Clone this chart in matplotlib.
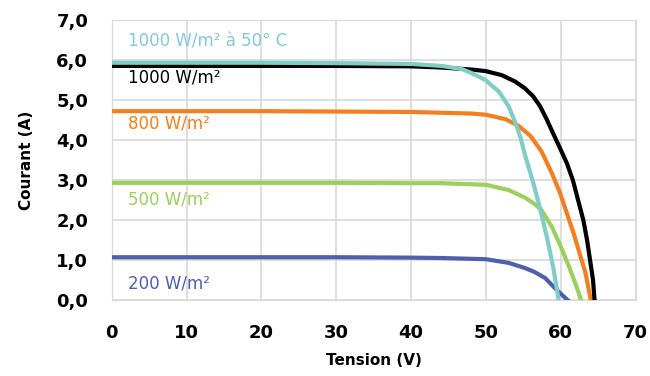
import numpy as np
import matplotlib
matplotlib.use('Agg')
import matplotlib.pyplot as plt
import matplotlib.ticker as ticker

plt.rcParams['font.family'] = ['DejaVu Sans']

# courbes I-V (tension V, courant A)
v_1000 = [0, 10, 20, 30, 40, 44.1, 48.1, 50, 52.1, 53.9, 55.2, 56.3, 57.2, 58.1, 59.0, 59.9,
          60.8, 61.6, 62.3, 63.0, 63.5, 63.9, 64.3, 64.5]
i_1000 = [5.85, 5.85, 5.85, 5.85, 5.84, 5.81, 5.76, 5.72, 5.62, 5.46, 5.29, 5.09, 4.85, 4.52,
          4.15, 3.79, 3.42, 3.0, 2.5, 2.0, 1.5, 1.0, 0.5, 0.0]

v_1000_50 = [0, 10, 20, 30, 40, 44.1, 46.8, 48.1, 49.9, 51.7, 53.0, 53.9, 54.6, 55.1, 56.2,
             57.0, 58.1, 59.0, 59.7]
i_1000_50 = [5.93, 5.93, 5.93, 5.92, 5.9, 5.85, 5.77, 5.67, 5.5, 5.21, 4.85, 4.44, 4.07, 3.7,
             3.0, 2.45, 1.6, 0.8, 0.0]

v_800 = [0, 10, 20, 30, 40, 44.1, 48.1, 50, 52.6, 54.3, 55.9, 57.4, 58.8, 59.9, 60.8, 61.7,
         62.5, 63.3, 64.0]
i_800 = [4.72, 4.72, 4.72, 4.71, 4.70, 4.68, 4.66, 4.63, 4.52, 4.36, 4.11, 3.72, 3.17, 2.67,
         2.17, 1.67, 1.17, 0.67, 0.0]

v_500 = [0, 10, 20, 30, 40, 44.1, 50, 53.0, 55.2, 56.5, 57.4, 58.8, 60.0, 61.1, 62.1, 62.7]
i_500 = [2.93, 2.93, 2.93, 2.93, 2.92, 2.92, 2.88, 2.75, 2.56, 2.4, 2.25, 1.83, 1.33, 0.83,
         0.33, 0.0]

v_200 = [0, 10, 20, 30, 40, 44.1, 50, 53.0, 55.2, 56.5, 57.9, 59.3, 60.9]
i_200 = [1.07, 1.07, 1.07, 1.07, 1.06, 1.05, 1.02, 0.93, 0.8, 0.7, 0.55, 0.28, 0.0]

series = [
    (v_200, i_200, '#4f5fab', '200 W/m²', 0.42, '#4f5fab'),
    (v_500, i_500, '#9ccf5e', '500 W/m²', 2.52, '#9ccf5e'),
    (v_800, i_800, '#f47f21', '800 W/m²', 4.42, '#f47f21'),
    (v_1000, i_1000, '#000000', '1000 W/m²', 5.57, '#000000'),
    (v_1000_50, i_1000_50, '#7fcdc6', '1000 W/m² à 50° C', 6.45, '#86c6dd'),
]

fig, ax = plt.subplots(figsize=(6.5, 3.76), dpi=100)
fig.subplots_adjust(left=0.172, right=0.978, bottom=0.202, top=0.947)

for v, i, col, lab, ylab, tcol in series:
    ax.plot(v, i, color=col, lw=3, solid_joinstyle='round', zorder=3)
    ax.text(2.1, ylab, lab, color=tcol, fontsize=12, va='center', ha='left', zorder=4)

ax.set_xlim(0, 70)
ax.set_ylim(0, 7)
ax.xaxis.set_major_locator(ticker.MultipleLocator(10))
ax.yaxis.set_major_locator(ticker.MultipleLocator(1))
ax.yaxis.set_major_formatter(ticker.FuncFormatter(lambda y, p: ('%.1f' % y).replace('.', ',')))
ax.grid(True, color='#d9d9d9', lw=1.2, zorder=0)
ax.tick_params(length=0, labelsize=13)
for lbl in ax.get_xticklabels() + ax.get_yticklabels():
    lbl.set_fontweight('bold')
ax.tick_params(axis='y', pad=17)
ax.tick_params(axis='x', pad=17)
for s in ax.spines.values():
    s.set_color('#d9d9d9')
ax.set_xlabel('Tension (V)', fontsize=11, fontweight='bold', labelpad=8)
ax.set_ylabel('Courant (A)', fontsize=11, fontweight='bold', labelpad=16)

fig.savefig('out.png')
